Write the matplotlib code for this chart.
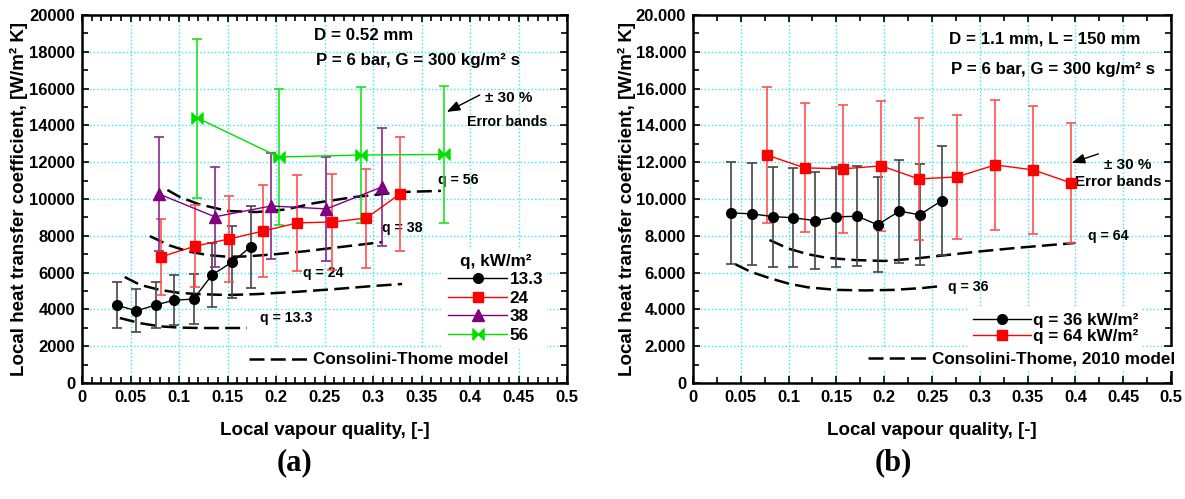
"""
Local heat transfer coefficient vs vapour quality, two channel sizes, with the
Consolini-Thome model curves and +/-30 % error bars.
"""
import matplotlib
matplotlib.use("Agg")
import matplotlib.pyplot as plt
from matplotlib.lines import Line2D
from matplotlib.ticker import MultipleLocator, FuncFormatter

plt.rcParams["font.family"] = ["Liberation Sans", "DejaVu Sans"]
plt.rcParams["font.weight"] = "bold"

# ---- panel (a): D = 0.52 mm -------------------------------------------------
a_x133 = [0.036, 0.056, 0.076, 0.095, 0.115, 0.134, 0.155, 0.174]
a_h133 = [4230, 3920, 4240, 4500, 4560, 5870, 6580, 7400]
a_x24 = [0.081, 0.117, 0.152, 0.187, 0.222, 0.258, 0.293, 0.328]
a_h24 = [6850, 7440, 7830, 8260, 8700, 8750, 8960, 10280]
a_x38 = [0.079, 0.137, 0.195, 0.252, 0.309]
a_h38 = [10280, 9030, 9620, 9460, 10650]
a_x56 = [0.119, 0.203, 0.288, 0.373]
a_h56 = [14400, 12280, 12390, 12420]

# Consolini-Thome model curves (a)
a_ct133_x = [0.039, 0.06, 0.08, 0.10, 0.12, 0.14, 0.17]
a_ct133_y = [3530, 3250, 3080, 3010, 2990, 2985, 2990]
a_ct24_x = [0.044, 0.06, 0.08, 0.10, 0.12, 0.15, 0.18, 0.22, 0.26, 0.30, 0.33]
a_ct24_y = [5760, 5330, 5060, 4900, 4830, 4780, 4830, 4950, 5100, 5270, 5380]
a_ct38_x = [0.07, 0.09, 0.11, 0.13, 0.15, 0.17, 0.20, 0.23, 0.26, 0.31]
a_ct38_y = [7980, 7480, 7140, 6950, 6860, 6880, 7000, 7160, 7350, 7660]
a_ct56_x = [0.088, 0.10, 0.12, 0.15, 0.18, 0.21, 0.24, 0.28, 0.33, 0.37]
a_ct56_y = [10490, 10130, 9720, 9350, 9290, 9430, 9780, 10100, 10380, 10440]

# ---- panel (b): D = 1.1 mm --------------------------------------------------
b_x36 = [0.040, 0.062, 0.084, 0.105, 0.128, 0.150, 0.172, 0.193, 0.216, 0.237, 0.260]
b_h36 = [9240, 9190, 9040, 8980, 8820, 9030, 9060, 8600, 9340, 9140, 9900]
b_x64 = [0.077, 0.117, 0.157, 0.197, 0.236, 0.276, 0.316, 0.356, 0.395]
b_h64 = [12390, 11690, 11640, 11800, 11090, 11200, 11850, 11580, 10880]

b_ct36_x = [0.044, 0.06, 0.08, 0.10, 0.12, 0.15, 0.18, 0.21, 0.24, 0.26]
b_ct36_y = [6460, 6050, 5700, 5400, 5200, 5060, 5030, 5060, 5160, 5270]
b_ct64_x = [0.08, 0.10, 0.12, 0.14, 0.17, 0.20, 0.23, 0.27, 0.30, 0.34, 0.40]
b_ct64_y = [7770, 7300, 7000, 6800, 6680, 6630, 6750, 6980, 7150, 7350, 7610]

ERR = 0.30
GRID = "#33e8f5"
DASH = (6, 2.5)
BOWTIE = [(-1, -1), (1, 1), (1, -1), (-1, 1), (-1, -1)]
ARROW = dict(arrowstyle="-|>,head_length=0.8,head_width=0.3", color="black", lw=1.0,
             shrinkA=0, shrinkB=0)


def series(ax, x, y, color, ecolor, marker, ms, label):
    err = [v * ERR for v in y]
    ax.errorbar(x, y, yerr=err, color=color, ecolor=ecolor, lw=1.0, elinewidth=1.2,
                capsize=3.5, capthick=1.2, marker=marker, ms=ms, mec=color, mfc=color,
                zorder=4)
    return Line2D([], [], color=color, lw=1.0, marker=marker, ms=ms, mfc=color, mec=color,
                  label=label)


def model(ax, x, y):
    ax.plot(x, y, color="black", lw=1.8, dashes=DASH, zorder=3)


def style(ax, xminor, ylab_x):
    ax.set_xlim(0, 0.5)
    ax.set_ylim(0, 20000)
    ax.xaxis.set_major_locator(MultipleLocator(0.05))
    ax.xaxis.set_minor_locator(MultipleLocator(xminor))
    ax.yaxis.set_major_locator(MultipleLocator(2000))
    ax.yaxis.set_minor_locator(MultipleLocator(1000))
    ax.xaxis.set_major_formatter(FuncFormatter(lambda v, p: "0" if v == 0 else f"{v:.2f}".rstrip("0")))
    ax.tick_params(which="both", direction="in", top=True, right=True, width=1.2,
                   labelsize=12, pad=5)
    ax.tick_params(which="major", length=5)
    ax.tick_params(which="minor", length=4)
    ax.grid(True, which="major", color=GRID, ls=":", lw=1.0)
    ax.set_axisbelow(True)
    for s in ax.spines.values():
        s.set_linewidth(1.8)
    ax.set_xlabel("Local vapour quality, [-]", fontsize=13.5, fontweight="bold")
    ax.set_ylabel("Local heat transfer coefficient, [W/m² K]", fontsize=13.5, fontweight="bold")
    ax.xaxis.set_label_coords(0.5, -0.106)
    ax.yaxis.set_label_coords(ylab_x, 0.5)


fig = plt.figure(figsize=(11.85, 4.99), dpi=100)
axa = fig.add_axes([0.0692, 0.2325, 0.4093, 0.7375])
axb = fig.add_axes([0.5848, 0.2325, 0.4034, 0.7375])

# ---------------- (a)
model(axa, a_ct133_x, a_ct133_y)
model(axa, a_ct24_x, a_ct24_y)
model(axa, a_ct38_x, a_ct38_y)
model(axa, a_ct56_x, a_ct56_y)
h = [series(axa, a_x133, a_h133, "black", "#444444", "o", 7, "13.3"),
     series(axa, a_x24, a_h24, "#ff0000", "#ff5050", "s", 7.5, "24"),
     series(axa, a_x38, a_h38, "#800080", "#8a2a8a", "^", 8, "38"),
     series(axa, a_x56, a_h56, "#00e000", "#20e020", BOWTIE, 8, "56")]
style(axa, 0.01, -0.111)

tk = dict(fontweight="bold", ha="center", va="center")
axa.text(0.290, 18900, "D = 0.52 mm", fontsize=12.2, **tk)
axa.text(0.346, 17500, "P = 6 bar, G = 300 kg/m² s", fontsize=12.2, **tk)
axa.text(0.440, 15500, "± 30 %", fontsize=11, **tk)
axa.text(0.438, 14180, "Error bands", fontsize=10.2, **tk)
axa.annotate("", xy=(0.376, 14730), xytext=(0.410, 15650), arrowprops=ARROW)
axa.text(0.388, 11030, "q = 56", fontsize=10.2, **tk)
axa.text(0.330, 8420, "q = 38", fontsize=10.2, **tk)
axa.text(0.249, 5980, "q = 24", fontsize=10.2, **tk)
axa.text(0.211, 3530, "q = 13.3", fontsize=10.2, **tk)

leg = axa.legend(handles=h, title="q, kW/m²", loc="center left", bbox_to_anchor=(0.745, 0.23),
                 borderaxespad=0, borderpad=0.25, handlelength=3.5, handletextpad=0.12,
                 labelspacing=0.2, frameon=True, framealpha=1, edgecolor="none",
                 fancybox=False, prop=dict(size=12.3, weight="bold"),
                 title_fontproperties=dict(size=12.3, weight="bold"))
axa.add_artist(leg)
axa.legend(handles=[Line2D([], [], color="black", lw=1.8, dashes=DASH, label="Consolini-Thome model")],
           loc="center left", bbox_to_anchor=(0.336, 0.0625), borderaxespad=0, borderpad=0.25,
           handlelength=3.4, handletextpad=0.35, frameon=True, framealpha=1, edgecolor="none",
           fancybox=False, prop=dict(size=12.3, weight="bold"))

# ---------------- (b)
model(axb, b_ct36_x, b_ct36_y)
model(axb, b_ct64_x, b_ct64_y)
hb = [series(axb, b_x36, b_h36, "black", "#444444", "o", 7, "q = 36 kW/m²"),
      series(axb, b_x64, b_h64, "#ff0000", "#ff5050", "s", 7.5, "q = 64 kW/m²")]
style(axb, 0.025, -0.119)
axb.yaxis.set_major_formatter(FuncFormatter(lambda v, p: "0" if v == 0 else f"{v / 1000:.3f}"))

axb.text(0.368, 18700, "D = 1.1 mm, L = 150 mm", fontsize=12.2, **tk)
axb.text(0.377, 17010, "P = 6 bar, G = 300 kg/m² s", fontsize=12.2, **tk)
axb.text(0.455, 11850, "± 30 %", fontsize=11, **tk)
axb.text(0.445, 10920, "Error bands", fontsize=11, **tk)
axb.annotate("", xy=(0.396, 11960), xytext=(0.424, 12450), arrowprops=ARROW)
axb.text(0.434, 7990, "q = 64", fontsize=10.2, **tk)
axb.text(0.288, 5220, "q = 36", fontsize=10.2, **tk)

legb = axb.legend(handles=hb, loc="center left", bbox_to_anchor=(0.576, 0.148),
                  borderaxespad=0, borderpad=0.25, handlelength=3.4, handletextpad=0.12,
                  labelspacing=0.1, frameon=True, framealpha=1, edgecolor="none",
                  fancybox=False, prop=dict(size=12.3, weight="bold"))
axb.add_artist(legb)
axb.legend(handles=[Line2D([], [], color="black", lw=1.8, dashes=DASH, label="Consolini-Thome, 2010 model")],
           loc="center left", bbox_to_anchor=(0.357, 0.065), borderaxespad=0, borderpad=0.25,
           handlelength=3.4, handletextpad=0.35, frameon=True, framealpha=1, edgecolor="none",
           fancybox=False, prop=dict(size=12.3, weight="bold"))

fig.text(295 / 1185, 1 - 463 / 499, "(a)", family="Liberation Serif", fontsize=22,
         fontweight="bold", ha="center", va="center")
fig.text(893 / 1185, 1 - 463 / 499, "(b)", family="Liberation Serif", fontsize=22,
         fontweight="bold", ha="center", va="center")

fig.savefig("out.png", dpi=100)
